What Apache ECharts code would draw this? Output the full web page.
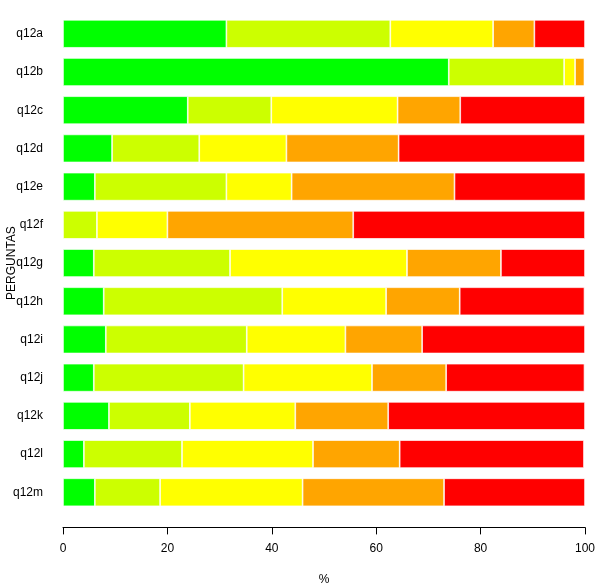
<!DOCTYPE html>
<html>
<head>
<meta charset="utf-8">
<script src="https://cdn.jsdelivr.net/npm/echarts@6/dist/echarts.min.js"></script>
<style>
html,body{margin:0;padding:0;background:#fff;}
#chart{width:600px;height:585px;}
</style>
</head>
<body>
<div id="chart"></div>
<script>
var categories = ['q12a','q12b','q12c','q12d','q12e','q12f','q12g','q12h','q12i','q12j','q12k','q12l','q12m'];
var xTicks = [0, 20, 40, 60, 80, 100];
var level1 = [31.3, 73.9, 23.9, 9.4, 6.1, 0.0, 5.9, 7.8, 8.2, 5.9, 8.8, 4.0, 6.1];
var level2 = [31.4, 22.1, 16.0, 16.7, 25.2, 6.5, 26.1, 34.2, 27.0, 28.7, 15.5, 18.8, 12.5];
var level3 = [19.7, 2.1, 24.2, 16.7, 12.5, 13.5, 33.9, 19.9, 18.9, 24.6, 20.2, 25.1, 27.3];
var level4 = [7.9, 1.8, 12.0, 21.5, 31.2, 35.6, 18.0, 14.1, 14.7, 14.2, 17.8, 16.6, 27.1];
var level5 = [9.7, 0.0, 23.9, 35.7, 25.1, 44.4, 16.1, 23.9, 31.2, 26.5, 37.7, 35.3, 27.0];
var colors = ['#00FF00', '#CCFF00', '#FFFF00', '#FFA500', '#FF0000'];

var chart = echarts.init(document.getElementById('chart'));
var font = 'Liberation Sans, Arial, sans-serif';
var seriesData = [level1, level2, level3, level4, level5];
var series = seriesData.map(function (d, i) {
  return {
    type: 'bar',
    stack: 'total',
    data: d,
    barWidth: 28,
    itemStyle: { color: colors[i], borderColor: '#ffffff', borderWidth: 0.7 },
    silent: true
  };
});
chart.setOption({
  animation: false,
  textStyle: { fontFamily: font },
  grid: { left: 63, right: 15, top: 14.7, bottom: 73.6, containLabel: false, outerBoundsMode: 'none' },
  xAxis: {
    type: 'value',
    min: 0, max: 100, interval: 20,
    offset: 16,
    name: '%',
    nameLocation: 'middle',
    nameGap: 46,
    nameTextStyle: { fontFamily: font, fontSize: 12, color: '#000' },
    axisLine: { show: true, lineStyle: { color: '#000', width: 1 } },
    axisTick: { show: true, length: 7, lineStyle: { color: '#000' } },
    axisLabel: { fontFamily: font, fontSize: 12, color: '#000', margin: 15,
      formatter: function (v) { return xTicks.indexOf(v) >= 0 ? String(v) : ''; } },
    splitLine: { show: false }
  },
  yAxis: {
    type: 'category',
    data: categories,
    inverse: true,
    name: 'PERGUNTAS',
    nameLocation: 'middle',
    nameGap: 45,
    nameRotate: 90,
    nameMoveOverlap: false,
    nameTextStyle: { fontFamily: font, fontSize: 12, color: '#000', padding: [4, 0, 0, 0] },
    axisLine: { show: false },
    axisTick: { show: false },
    axisLabel: { fontFamily: font, fontSize: 12, color: '#000', margin: 20 }
  },
  series: series
});
</script>
</body>
</html>
